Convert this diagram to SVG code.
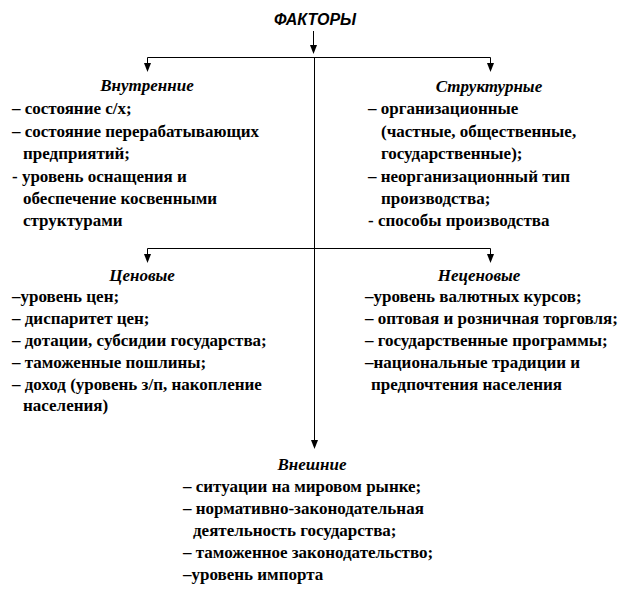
<svg xmlns="http://www.w3.org/2000/svg" width="628" height="616" viewBox="0 0 628 616">
<rect width="628" height="616" fill="#fff"/>
<g id="connectors">
<g stroke="#000" stroke-width="1" fill="none">
<path d="M313.5,31 V47"/>
<path d="M147.5,57.5 H490.5"/>
<path d="M147.5,57.5 V65"/>
<path d="M490.5,57.5 V65"/>
<path d="M314.5,57.5 V442"/>
<path d="M147.5,248.5 H490.5"/>
<path d="M147.5,248.5 V256"/>
<path d="M490.5,248.5 V256"/>
</g>
<g fill="#000">
<path d="M310,45 L317,45 L313.5,54 Z"/>
<path d="M144,63 L151,63 L147.5,72 Z"/>
<path d="M487,63 L494,63 L490.5,72 Z"/>
<path d="M311,440 L318,440 L314.5,449 Z"/>
<path d="M144,254 L151,254 L147.5,263 Z"/>
<path d="M487,254 L494,254 L490.5,263 Z"/>
</g>
</g>
<g id="node-factors">
<text x="315" y="25" font-family="Liberation Sans" font-size="16" font-weight="bold" font-style="italic" text-anchor="middle">ФАКТОРЫ</text>
</g>
<g id="node-internal">
<text x="147" y="91" font-family="Liberation Serif" font-size="17" font-weight="bold" font-style="italic" text-anchor="middle">Внутренние</text>
<text x="12" y="114" font-family="Liberation Serif" font-size="17" font-weight="bold">– состояние с/х;</text>
<text x="12" y="136.5" font-family="Liberation Serif" font-size="17" font-weight="bold">– состояние перерабатывающих</text>
<text x="23" y="159" font-family="Liberation Serif" font-size="17" font-weight="bold">предприятий;</text>
<text x="12" y="181.5" font-family="Liberation Serif" font-size="17" font-weight="bold">- уровень оснащения и</text>
<text x="23" y="204" font-family="Liberation Serif" font-size="17" font-weight="bold">обеспечение косвенными</text>
<text x="23" y="226" font-family="Liberation Serif" font-size="17" font-weight="bold">структурами</text>
</g>
<g id="node-structural">
<text x="489" y="92" font-family="Liberation Serif" font-size="17" font-weight="bold" font-style="italic" text-anchor="middle">Структурные</text>
<text x="368" y="114" font-family="Liberation Serif" font-size="17" font-weight="bold">– организационные</text>
<text x="381" y="136.5" font-family="Liberation Serif" font-size="17" font-weight="bold">(частные, общественные,</text>
<text x="381" y="159" font-family="Liberation Serif" font-size="17" font-weight="bold">государственные);</text>
<text x="368" y="181.5" font-family="Liberation Serif" font-size="17" font-weight="bold">– неорганизационный тип</text>
<text x="381" y="204" font-family="Liberation Serif" font-size="17" font-weight="bold">производства;</text>
<text x="368" y="226" font-family="Liberation Serif" font-size="17" font-weight="bold">- способы производства</text>
</g>
<g id="node-price">
<text x="142" y="281" font-family="Liberation Serif" font-size="17" font-weight="bold" font-style="italic" text-anchor="middle">Ценовые</text>
<text x="12" y="302" font-family="Liberation Serif" font-size="17" font-weight="bold">–уровень цен;</text>
<text x="12" y="324" font-family="Liberation Serif" font-size="17" font-weight="bold">– диспаритет цен;</text>
<text x="12" y="346" font-family="Liberation Serif" font-size="17" font-weight="bold">– дотации, субсидии государства;</text>
<text x="12" y="368" font-family="Liberation Serif" font-size="17" font-weight="bold">– таможенные пошлины;</text>
<text x="12" y="390" font-family="Liberation Serif" font-size="17" font-weight="bold">– доход (уровень з/п, накопление</text>
<text x="23" y="411" font-family="Liberation Serif" font-size="17" font-weight="bold">населения)</text>
</g>
<g id="node-nonprice">
<text x="479" y="281" font-family="Liberation Serif" font-size="17" font-weight="bold" font-style="italic" text-anchor="middle">Неценовые</text>
<text x="365" y="302" font-family="Liberation Serif" font-size="17" font-weight="bold">–уровень валютных курсов;</text>
<text x="365" y="324" font-family="Liberation Serif" font-size="17" font-weight="bold">– оптовая и розничная торговля;</text>
<text x="365" y="346" font-family="Liberation Serif" font-size="17" font-weight="bold">– государственные программы;</text>
<text x="365" y="368" font-family="Liberation Serif" font-size="17" font-weight="bold">–национальные традиции и</text>
<text x="371" y="390" font-family="Liberation Serif" font-size="17" font-weight="bold">предпочтения населения</text>
</g>
<g id="node-external">
<text x="312" y="470" font-family="Liberation Serif" font-size="17" font-weight="bold" font-style="italic" text-anchor="middle">Внешние</text>
<text x="183" y="492" font-family="Liberation Serif" font-size="17" font-weight="bold">– ситуации на мировом рынке;</text>
<text x="183" y="514" font-family="Liberation Serif" font-size="17" font-weight="bold">– нормативно-законодательная</text>
<text x="193" y="536" font-family="Liberation Serif" font-size="17" font-weight="bold">деятельность государства;</text>
<text x="183" y="558" font-family="Liberation Serif" font-size="17" font-weight="bold">– таможенное законодательство;</text>
<text x="183" y="580" font-family="Liberation Serif" font-size="17" font-weight="bold">–уровень импорта</text>
</g>
</svg>
